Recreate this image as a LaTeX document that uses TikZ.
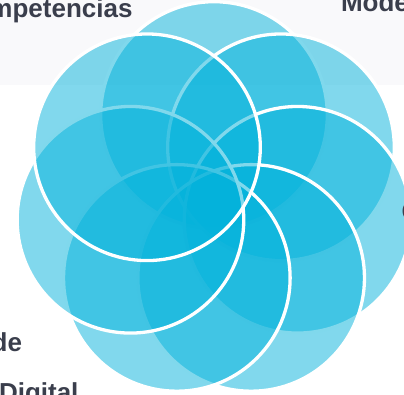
\documentclass[tikz,border=0pt]{standalone}
\usepackage{fontspec}
\setmainfont{Liberation Sans}
\usetikzlibrary{calc}
\definecolor{petalc}{RGB}{3,178,219}
\definecolor{labelc}{RGB}{58,62,76}
\definecolor{bandc}{RGB}{249,249,251}
\tikzset{
  petal/.style={circle, inner sep=0pt, outer sep=0pt, minimum size=226.6pt,
    fill=petalc, fill opacity=0.5, draw=white, draw opacity=1, line width=3.3pt},
  lbl/.style={inner sep=0pt, outer sep=0pt, text=labelc, font=\bfseries\fontsize{26}{30}\selectfont}
}
\begin{document}
\begin{tikzpicture}[x=1pt,y=1pt]
\useasboundingbox (0,0) rectangle (404,394);
\fill[bandc] (0,309) rectangle (404,394);
\coordinate (O) at (214,193.3);
\node[petal] (pA) at ($(O)+(90:85.7)$) {};
\node[petal] (pC) at ($(O)+(38.57:85.7)$) {};
\node[petal] (pD) at ($(O)+(-12.86:85.7)$) {};
\node[petal] (pE) at ($(O)+(-64.29:85.7)$) {};
\node[petal] (pF) at ($(O)+(-115.71:85.7)$) {};
\node[petal] (pG) at ($(O)+(-167.14:85.7)$) {};
\node[petal] (pB) at ($(O)+(141.43:85.7)$) {};
\node[lbl, anchor=base east] (t1) at (132.5,376) {mpetencias};
\node[lbl, anchor=base west] (t2) at (341,382) {Mode};
\node[lbl, anchor=base east] (t3) at (22,43) {de};
\node[lbl, anchor=base west] (t4) at (-1,-7.6) {Digital};
\node[lbl, anchor=base west] (t5) at (401.5,174) {C};
\end{tikzpicture}
\end{document}
